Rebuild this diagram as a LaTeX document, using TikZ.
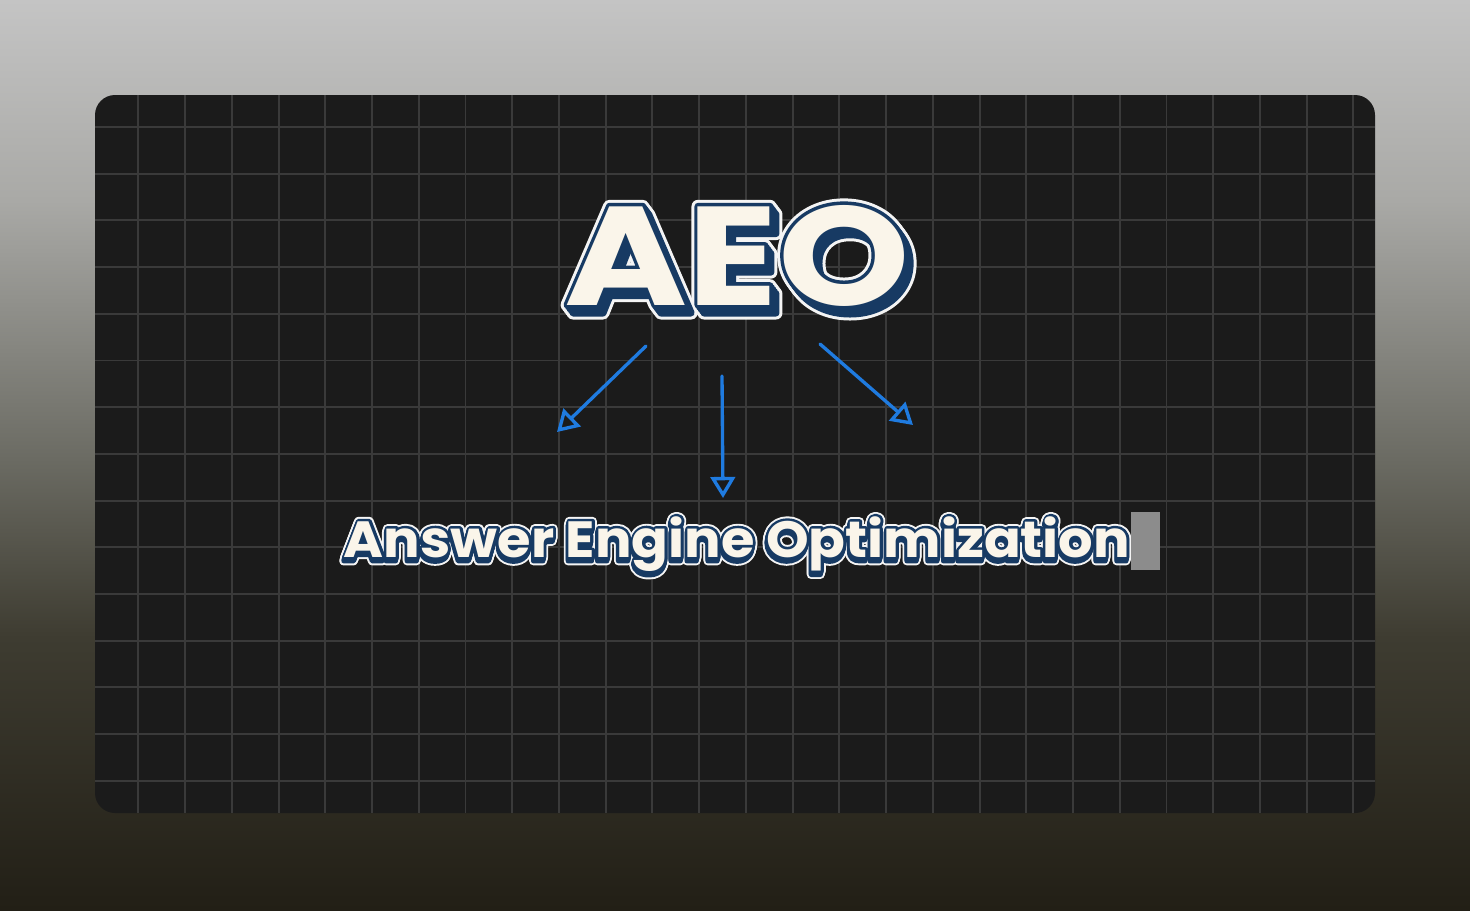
\documentclass[tikz,border=0pt]{standalone}
\usepackage{fontspec}
\newfontfamily\titlefont{Poppins}[FakeStretch=1.19]
\newfontfamily\subtitlefont{Poppins}[FakeStretch=1.065]
\usetikzlibrary{arrows.meta,positioning}

\definecolor{bgtop}{HTML}{C4C4C4}
\definecolor{bgupper}{HTML}{A9A9A6}
\definecolor{bgmid}{HTML}{6C6C64}
\definecolor{bglower}{HTML}{3E3C31}
\definecolor{bgbot}{HTML}{221F16}
\definecolor{panelblack}{HTML}{1B1B1B}
\definecolor{gridgray}{HTML}{3A3A3A}
\definecolor{cream}{HTML}{FAF5EA}
\definecolor{navy}{HTML}{173A63}
\definecolor{rimwhite}{HTML}{F4F4F4}
\definecolor{arrowblue}{HTML}{1F7BE0}
\definecolor{cursorgray}{HTML}{8C8C8C}

% the path covers 25bp..75bp of the shading
\pgfdeclareverticalshading{backdrop}{100bp}{
    color(0bp)=(bgbot);
    color(25bp)=(bgbot);
    color(40bp)=(bglower);
    color(50bp)=(bgmid);
    color(64bp)=(bgupper);
    color(75bp)=(bgtop);
    color(100bp)=(bgtop)
}

% glyphs filled and stroked in the current colour
\newcommand{\outlined}[2]{\special{pdf:literal direct 2 Tr #1 w 1 j}#2\special{pdf:literal direct 0 Tr}}

% layered poster text: white rim, navy extrusion, cream face
\newcommand{\popnode}[8]{%
    \foreach \s in {0,0.25,...,1}
        \node[pop text, text=rimwhite, shift={({\s*#4},{\s*#5})}] at #2 {#3\outlined{#6}{#8}};
    \foreach \s in {0,0.25,...,1}
        \node[pop text, text=navy, shift={({\s*#4},{\s*#5})}] at #2 {#3\outlined{#7}{#8}};
    \node (#1) [pop text, text=cream] at #2 {#3#8};
}

\begin{document}
\begin{tikzpicture}[x=0.02cm, y=-0.02cm,
    pop text/.style={inner sep=0pt, anchor=base},
    grid line/.style={draw=gridgray, line width=1.1pt},
    hand arrow/.style={
        draw=arrowblue,
        line width=1.9pt,
        line cap=round,
        -{Triangle[open, length=12pt, width=14pt, line width=1.9pt]}
    }
]
    \useasboundingbox (0,0) rectangle (1470,910);
    \shade[shading=backdrop] (0,0) rectangle (1470,910);



    \fill[panelblack, rounded corners=0.4cm] (95,95) rectangle (1375,813);
    \begin{scope}
        \clip[rounded corners=0.4cm] (95,95) rectangle (1375,813);
        \foreach \k in {0,...,26}
            \draw[grid line] ({138.4+46.73*\k},95) -- ({138.4+46.73*\k},813);
        \foreach \k in {0,...,14}
            \draw[grid line] (95,{127+46.7*\k}) -- (1375,{127+46.7*\k});
    \end{scope}



    \popnode{aeo_title}{(737,305)}{\titlefont\bfseries\fontsize{80}{80}\selectfont}{6}{8}{7.4}{4}{AEO}

    \popnode{subtitle}{(737,557)}{\subtitlefont\bfseries\fontsize{29}{29}\selectfont}{-1}{4}{5}{2.8}{Answer Engine Optimization}

    \node (cursor_block) [fill=cursorgray, inner sep=0pt, minimum width=0.58cm, minimum height=1.16cm] at (1145.5,541) {};



    \coordinate (left_from) at (646,346);
    \coordinate (left_to) at (557,432);
    \coordinate (mid_from) at (722,376);
    \coordinate (mid_to) at (723,498);
    \coordinate (right_from) at (820,344);
    \coordinate (right_to) at (913,425);

    \draw[hand arrow] (left_from) to (left_to);
    \draw[hand arrow] (mid_from) to (mid_to);
    \draw[hand arrow] (right_from) to (right_to);


\end{tikzpicture}
\end{document}
